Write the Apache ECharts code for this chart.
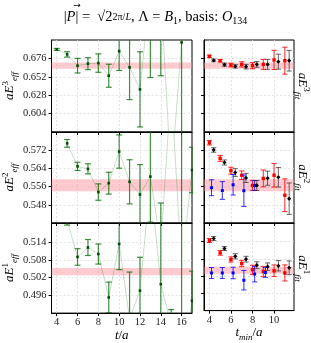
<!DOCTYPE html>
<html><head><meta charset="utf-8">
<script src="https://cdn.jsdelivr.net/npm/echarts@6/dist/echarts.min.js"></script>
<style>html,body{margin:0;padding:0;background:#fff}#c{width:311px;height:343px}</style>
</head><body><div id="c"></div>
<script>
// ---------- data ----------
const tEff = [4,5,6,7,8,9,10,11,12,13,14,15,16,17];
const e3Eff    = [0.6877,0.6812,0.6665,0.6691,0.6699,0.6534,0.6855,0.6643,0.6356,0.7700,0.7600,0.5200,0.6968,null];
const e3EffErr = [0.0013,0.0035,0.0095,0.0078,0.0120,0.0150,0.0252,0.0420,0.0490,0.1190,0.1066,0.0400,0.1500,null];
const e2Eff    = [null,0.5750,0.5649,0.5638,0.5536,0.5575,0.5714,0.5581,0.5525,0.5604,0.5300,0.6000,0.5200,0.5633];
const e2EffErr = [null,0.0017,0.0018,0.0022,0.0036,0.0048,0.0073,0.0097,0.0132,0.0200,0.0188,0.0150,0.0700,0.0100];
const e1Eff    = [null,0.5215,0.5090,0.5122,0.5100,0.4953,0.5134,0.4880,0.4976,0.5350,0.4998,0.4860,0.4700,0.4942];
const e1EffErr = [null,0.0017,0.0028,0.0027,0.0034,0.0052,0.0087,0.0159,0.0113,0.0100,0.0300,0.0052,0.0600,0.0100];

const tFit = [4,5,6,7,8,9,10,11];
const e3FitRed      = [0.6786,0.6730,0.6673,0.6682,0.6665,0.6682,0.6740,0.6730];
const e3FitRedErr   = [0.0017,0.0017,0.0024,0.0035,0.0040,0.0065,0.0125,0.0176];
const e3FitBlack    = [0.6734,0.6678,0.6656,0.6652,0.6682,0.6682,0.6717,0.6730];
const e3FitBlackErr = [0.0017,0.0020,0.0022,0.0030,0.0037,0.0065,0.0098,0.0135];
const e2FitRed      = [0.5753,0.5684,0.5630,0.5610,0.5565,0.5596,0.5610,0.5522];
const e2FitRedErr   = [0.0010,0.0013,0.0015,0.0019,0.0022,0.0037,0.0052,0.0072];
const e2FitBlack    = [0.5721,0.5666,0.5622,0.5598,0.5565,0.5597,0.5601,0.5507];
const e2FitBlackErr = [0.0010,0.0011,0.0017,0.0020,0.0022,0.0031,0.0043,0.0069];
const e2FitBlue     = [0.5555,0.5543,0.5568,0.5542,0.5565];
const e2FitBlueErr  = [0.0035,0.0039,0.0045,0.0069,0.0022];
const e1FitRed      = [0.5144,0.5101,0.5078,0.5064,0.5042,0.5036,0.5039,0.5031];
const e1FitRedErr   = [0.0007,0.0008,0.0009,0.0011,0.0016,0.0018,0.0020,0.0028];
const e1FitBlack    = [0.5151,0.5116,0.5089,0.5079,0.5058,0.5053,0.5056,0.5049];
const e1FitBlackErr = [0.0007,0.0007,0.0009,0.0010,0.0012,0.0013,0.0018,0.0024];
const e1FitBlue     = [0.5031,0.5031,0.5031,0.5006,0.5027,0.5033];
const e1FitBlueErr  = [0.0019,0.0019,0.0020,0.0034,0.0027,0.0017];

const bandE3 = [0.6624, 0.6708];
const bandE2 = [0.5540, 0.5592];
const bandE1 = [0.5028, 0.5053];

const tickEffX = [4,6,8,10,12,14,16];
const tickFitX = [4,6,8,10];
const tickE3 = [0.604,0.628,0.652,0.676];
const tickE2 = [0.548,0.556,0.564,0.572];
const tickE1 = [0.496,0.502,0.508,0.514];
const rangeE3 = [0.580, 0.700];
const rangeE2 = [0.540, 0.580];
const rangeE1 = [0.490, 0.5205];
const rangeEffX = [3.5, 17];
const rangeFitX = [3.5, 11.85];

// ---------- style / layout ----------
const FONT = '"Liberation Serif","DejaVu Serif",serif';
const OFF = {red: 0, blue: 0.2, black: 0.4};
const rowTop = [40, 132, 223], rowH = [92, 91, 91];
const rich = {
  m: {fontFamily: FONT, fontStyle: 'italic', fontSize: 13, lineHeight: 18, color: '#000'},
  n: {fontFamily: FONT, fontSize: 13, lineHeight: 18, color: '#000'},
  p: {fontFamily: FONT, fontSize: 9, lineHeight: 9, verticalAlign: 'top', color: '#000'},
  b: {fontFamily: FONT, fontStyle: 'italic', fontSize: 9, lineHeight: 9, verticalAlign: 'bottom', color: '#000'},
  c: {fontFamily: FONT, fontSize: 10, lineHeight: 9, verticalAlign: 'bottom', color: '#000'},
  f: {fontFamily: FONT, fontSize: 10, lineHeight: 18, color: '#000'},
  fi: {fontFamily: FONT, fontStyle: 'italic', fontSize: 10, lineHeight: 18, color: '#000'},
  t: {fontFamily: FONT, fontSize: 14.5, lineHeight: 18, color: '#000'},
  ti: {fontFamily: FONT, fontStyle: 'italic', fontSize: 14.5, lineHeight: 18, color: '#000'}
};

const grids = [], xAxes = [], yAxes = [], series = [];
const yRanges = [rangeE3, rangeE2, rangeE1], yTicks = [tickE3, tickE2, tickE1];
const sups = ['3','2','1'];
for (let side = 0; side < 2; side++) {
  for (let r = 0; r < 3; r++) {
    grids.push({left: side ? 204 : 46, width: side ? 90 : 146, top: rowTop[r], height: rowH[r],
      show: true, borderColor: '#000', borderWidth: 1, backgroundColor: 'transparent'});
    const gi = grids.length - 1;
    const xt = side ? tickFitX : tickEffX;
    const xr = side ? rangeFitX : rangeEffX;
    xAxes.push({
      gridIndex: gi, type: 'value', min: xr[0], max: xr[1],
      axisLine: {show: true, onZero: false, lineStyle: {color: '#000', width: 1}},
      axisTick: {show: true, inside: false, length: 3, customValues: xt, lineStyle: {color: '#000'}},
      axisLabel: {show: r === 2, customValues: xt, margin: 4, fontFamily: FONT, fontSize: 10.5, color: '#222'},
      splitLine: {show: true, lineStyle: {color: '#dcdcdc', type: [2, 2], width: 0.8}},
      name: r === 2 ? (side ? '{m|t}{b|min}{n|/}{m|a}' : '{m|t}{n|/}{m|a}') : '',
      nameLocation: 'middle', nameGap: 11, nameTextStyle: {rich: rich}
    });
    yAxes.push({
      gridIndex: gi, type: 'value', min: yRanges[r][0], max: yRanges[r][1],
      axisLine: {show: true, onZero: false, lineStyle: {color: '#000', width: 1}},
      axisTick: {show: true, inside: false, length: 3, customValues: yTicks[r], lineStyle: {color: '#000'}},
      axisLabel: {show: side === 0, customValues: yTicks[r], margin: 5, fontFamily: FONT, fontSize: 10.5, color: '#222',
        formatter: v => v.toFixed(3)},
      splitLine: {show: true, lineStyle: {color: '#dcdcdc', type: [2, 2], width: 0.8}},
      name: side === 0 ? '{m|aE}{p|' + sups[r] + '}{b|eff}' : '',
      nameLocation: 'middle', nameRotate: 90, nameGap: 27, nameTextStyle: {rich: rich}
    });
  }
}

function bandSeries(gi, band, xmin, xmax) {
  return {type: 'custom', xAxisIndex: gi, yAxisIndex: gi, z: 1, silent: true, clip: true,
    data: [[xmin, band[0], xmax, band[1]]],
    renderItem: (params, api) => {
      const a = api.coord([api.value(0), api.value(3)]);
      const b = api.coord([api.value(2), api.value(1)]);
      return {type: 'rect', shape: {x: a[0], y: a[1], width: b[0] - a[0], height: b[1] - a[1]},
        style: {fill: 'rgba(255,140,150,0.45)'}};
    }};
}
function errSeries(gi, xs, ys, es, off, st) {
  const data = [];
  xs.forEach((x, i) => { if (i < ys.length && ys[i] != null) data.push([x + off, ys[i], es[i]]); });
  return {type: 'custom', xAxisIndex: gi, yAxisIndex: gi, z: st.z || 3, silent: true, clip: true, data: data,
    renderItem: (params, api) => {
      const x = api.value(0), y = api.value(1), e = api.value(2);
      const p = api.coord([x, y]), hi = api.coord([x, y + e]), lo = api.coord([x, y - e]);
      const w = st.cap, ls = {stroke: st.bar, lineWidth: st.lw};
      const s = st.size;
      const marker = st.diamond
        ? {type: 'polygon', shape: {points: [[p[0], p[1] - s], [p[0] + s, p[1]], [p[0], p[1] + s], [p[0] - s, p[1]]]}, style: {fill: st.pt}}
        : {type: 'rect', shape: {x: p[0] - s, y: p[1] - s, width: 2 * s, height: 2 * s}, style: {fill: st.pt}};
      return {type: 'group', children: [
        {type: 'line', shape: {x1: p[0], y1: hi[1], x2: p[0], y2: lo[1]}, style: ls},
        {type: 'line', shape: {x1: p[0] - w, y1: hi[1], x2: p[0] + w, y2: hi[1]}, style: ls},
        {type: 'line', shape: {x1: p[0] - w, y1: lo[1], x2: p[0] + w, y2: lo[1]}, style: ls},
        marker]};
    }};
}
const green = {bar: 'rgba(0,105,0,0.75)', pt: '#004d00', lw: 1.2, cap: 3, size: 1.3};
const red = {bar: 'rgba(255,0,0,0.85)', pt: '#ff0000', lw: 1, cap: 2.6, size: 1.7, z: 3};
const black = {bar: 'rgba(40,40,40,0.7)', pt: '#000', lw: 1, cap: 2.6, size: 2.1, diamond: true, z: 4};
const blue = {bar: 'rgba(0,0,255,0.8)', pt: '#0000ff', lw: 1, cap: 2.6, size: 1.5, z: 3};

const effVals = [[e3Eff, e3EffErr], [e2Eff, e2EffErr], [e1Eff, e1EffErr]];
const bands = [bandE3, bandE2, bandE1];
for (let r = 0; r < 3; r++) {
  series.push(bandSeries(r, bands[r], rangeEffX[0], rangeEffX[1]));
  series.push({type: 'line', xAxisIndex: r, yAxisIndex: r, z: 2, silent: true, showSymbol: false, symbol: 'none',
    data: tEff.map((t, i) => [t, effVals[r][0][i]]),
    lineStyle: {color: 'rgba(0,110,0,0.22)', width: 1}});
  series.push(errSeries(r, tEff, effVals[r][0], effVals[r][1], 0, green));
}
const fitRed = [[e3FitRed, e3FitRedErr], [e2FitRed, e2FitRedErr], [e1FitRed, e1FitRedErr]];
const fitBlack = [[e3FitBlack, e3FitBlackErr], [e2FitBlack, e2FitBlackErr], [e1FitBlack, e1FitBlackErr]];
const fitBlue = [null, [e2FitBlue, e2FitBlueErr], [e1FitBlue, e1FitBlueErr]];
for (let r = 0; r < 3; r++) {
  const gi = 3 + r;
  series.push(bandSeries(gi, bands[r], rangeFitX[0], rangeFitX[1]));
  series.push(errSeries(gi, tFit, fitRed[r][0], fitRed[r][1], OFF.red, red));
  if (fitBlue[r]) series.push(errSeries(gi, tFit, fitBlue[r][0], fitBlue[r][1], OFF.blue, blue));
  series.push(errSeries(gi, tFit, fitBlack[r][0], fitBlack[r][1], OFF.black, black));
}

const graphic = [0, 1, 2].map(r => ({
  type: 'text', x: 302, y: rowTop[r] + rowH[r] / 2, rotation: -Math.PI / 2,
  style: {text: '{m|aE}{p|' + sups[r] + '}{b|fit}', rich: rich, align: 'center', verticalAlign: 'middle'}
}));
// vector arrow over the P in the title
graphic.push({type: 'text', x: 77, y: 6, style: {text: '→', font: '9px "DejaVu Sans"', fill: '#000', align: 'center', verticalAlign: 'middle'}});

const titleText = '{t||}{ti|P}{t|| =  √2}{f|2π/}{fi|L}{t|, Λ = }{ti|B}{c|1}{t|, basis: }{ti|O}{c|134}';

const chart = echarts.init(document.getElementById('c'), null, {renderer: 'canvas'});
chart.setOption({
  animation: false,
  backgroundColor: '#fff',
  title: {text: titleText, left: 'center', top: 3,
    textStyle: {fontFamily: FONT, fontSize: 14.5, fontWeight: 'normal', color: '#000', lineHeight: 18, rich: rich}},
  grid: grids, xAxis: xAxes, yAxis: yAxes, series: series, graphic: graphic
});
</script></body></html>
